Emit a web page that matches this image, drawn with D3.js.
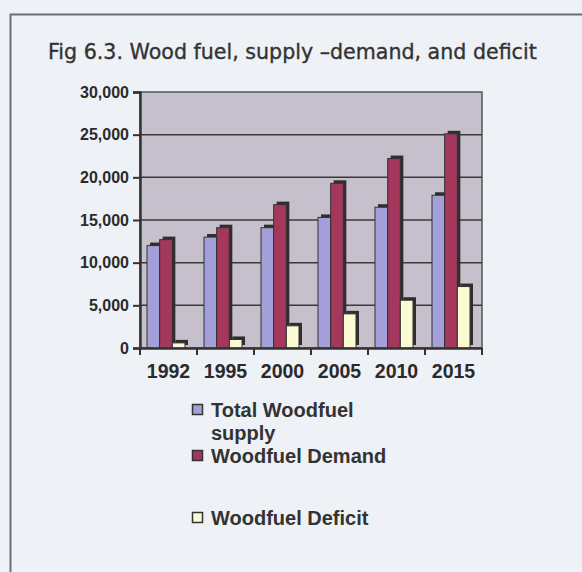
<!DOCTYPE html>
<html>
<head>
<meta charset="utf-8">
<script src="https://cdn.jsdelivr.net/npm/d3@7"></script>
<style>
  body { margin: 0; background: #eef1f6; }
  svg { display: block; }
</style>
</head>
<body>
<svg id="chart" width="582" height="572"></svg>
<script>
// data
var years = ["1992", "1995", "2000", "2005", "2010", "2015"];
var supply = [12000, 13000, 14100, 15300, 16500, 17900];
var demand = [12700, 14100, 16800, 19300, 22200, 25100];
var deficit = [600, 1000, 2600, 4000, 5600, 7200];
var seriesNames = ["Total Woodfuel supply", "Woodfuel Demand", "Woodfuel Deficit"];
var yTicks = [0, 5000, 10000, 15000, 20000, 25000, 30000];

var colors = ["#a39fd9", "#a3385c", "#fbfad2"];
var values = [supply, demand, deficit];

var svg = d3.select("#chart");

// outer frame
svg.append("rect")
    .attr("x", 10.5).attr("y", 14.5)
    .attr("width", 600).attr("height", 600)
    .attr("fill", "none")
    .attr("stroke", "#6a6d72")
    .attr("stroke-width", 2);

svg.append("text")
    .attr("x", 48).attr("y", 59)
    .attr("font-family", "'DejaVu Sans', sans-serif")
    .attr("font-size", 20.6)
    .attr("fill", "#333")
    .attr("stroke", "#333")
    .attr("stroke-width", 0.35)
    .text("Fig 6.3. Wood fuel, supply \u2013demand, and deficit");

var pLeft = 140, pRight = 482, pTop = 92, pBottom = 348;

var x = d3.scaleBand().domain(years).range([pLeft, pRight]);
var xs = d3.scaleBand().domain(d3.range(3)).range([7, 45]);
var y = d3.scaleLinear().domain([0, 30000]).range([pBottom, pTop]);

// plot wall
svg.append("rect")
    .attr("x", pLeft).attr("y", pTop)
    .attr("width", pRight - pLeft).attr("height", pBottom - pTop)
    .attr("fill", "#c5c0cb")
    .attr("stroke", "#555")
    .attr("stroke-width", 1.5);

// gridlines
svg.append("g")
    .selectAll("line")
    .data(yTicks.slice(1, -1))
    .enter()
    .append("line")
    .attr("x1", pLeft).attr("x2", pRight)
    .attr("y1", function (d) { return y(d); })
    .attr("y2", function (d) { return y(d); })
    .attr("stroke", "#3a3a3a")
    .attr("stroke-width", 1.5);

// bars with a dark depth side
var depth = 3;
var groups = svg.append("g")
    .selectAll("g")
    .data(years)
    .enter()
    .append("g")
    .attr("transform", function (d) { return "translate(" + x(d) + ",0)"; });

groups.each(function (yr, i) {
    var g = d3.select(this);
    [2, 1, 0].forEach(function (s) {
        var v = values[s][i];
        g.append("rect")
            .attr("x", xs(s) + depth).attr("y", y(v) - depth)
            .attr("width", xs.bandwidth()).attr("height", pBottom - y(v))
            .attr("fill", "#2e2e2e");
    });
    [0, 1, 2].forEach(function (s) {
        var v = values[s][i];
        g.append("rect")
            .attr("x", xs(s)).attr("y", y(v))
            .attr("width", xs.bandwidth()).attr("height", pBottom - y(v))
            .attr("fill", colors[s])
            .attr("stroke", "#333")
            .attr("stroke-width", 1);
    });
});

// y axis
var yAxis = svg.append("g")
    .attr("transform", "translate(" + pLeft + ",0)")
    .call(d3.axisLeft(y).tickValues(yTicks).tickFormat(d3.format(",")).tickSize(7).tickPadding(4));
yAxis.select(".domain").attr("stroke", "#333").attr("stroke-width", 2.5);
yAxis.selectAll(".tick line").attr("stroke", "#333").attr("stroke-width", 2);
yAxis.selectAll("text")
    .attr("font-family", "'Liberation Sans', Arial, sans-serif")
    .attr("font-weight", "bold")
    .attr("font-size", 16)
    .attr("fill", "#2a2a2a");

// x axis
var xAxis = svg.append("g")
    .attr("transform", "translate(0," + pBottom + ")")
    .call(d3.axisBottom(x).tickSize(0).tickPadding(16));
xAxis.select(".domain").attr("stroke", "#333").attr("stroke-width", 2.5);
xAxis.selectAll("text")
    .attr("font-family", "'Liberation Sans', Arial, sans-serif")
    .attr("font-weight", "bold")
    .attr("font-size", 19.5)
    .attr("fill", "#2a2a2a");
xAxis.selectAll("line.bound")
    .data(years.map(function (d) { return x(d); }).concat([pRight]))
    .enter()
    .append("line")
    .attr("class", "bound")
    .attr("x1", function (d) { return d; })
    .attr("x2", function (d) { return d; })
    .attr("y1", 0).attr("y2", 7)
    .attr("stroke", "#333")
    .attr("stroke-width", 2);

// legend
var legendRows = [
    { s: 0, lines: ["Total Woodfuel", "supply"], y: 417 },
    { s: 1, lines: ["Woodfuel Demand"], y: 463 },
    { s: 2, lines: ["Woodfuel Deficit"], y: 525 }
];
var legend = svg.append("g");
legendRows.forEach(function (r) {
    legend.append("rect")
        .attr("x", 192.5).attr("y", r.y - 12.5)
        .attr("width", 10).attr("height", 10)
        .attr("fill", colors[r.s])
        .attr("stroke", "#333")
        .attr("stroke-width", 1.5);
    var t = legend.append("text")
        .attr("x", 211).attr("y", r.y)
        .attr("font-family", "'Liberation Sans', Arial, sans-serif")
        .attr("font-weight", "bold")
        .attr("font-size", 20)
        .attr("fill", "#333");
    r.lines.forEach(function (l, k) {
        t.append("tspan").attr("x", 211).attr("dy", k ? 23 : 0).text(l);
    });
});
</script>
</body>
</html>
